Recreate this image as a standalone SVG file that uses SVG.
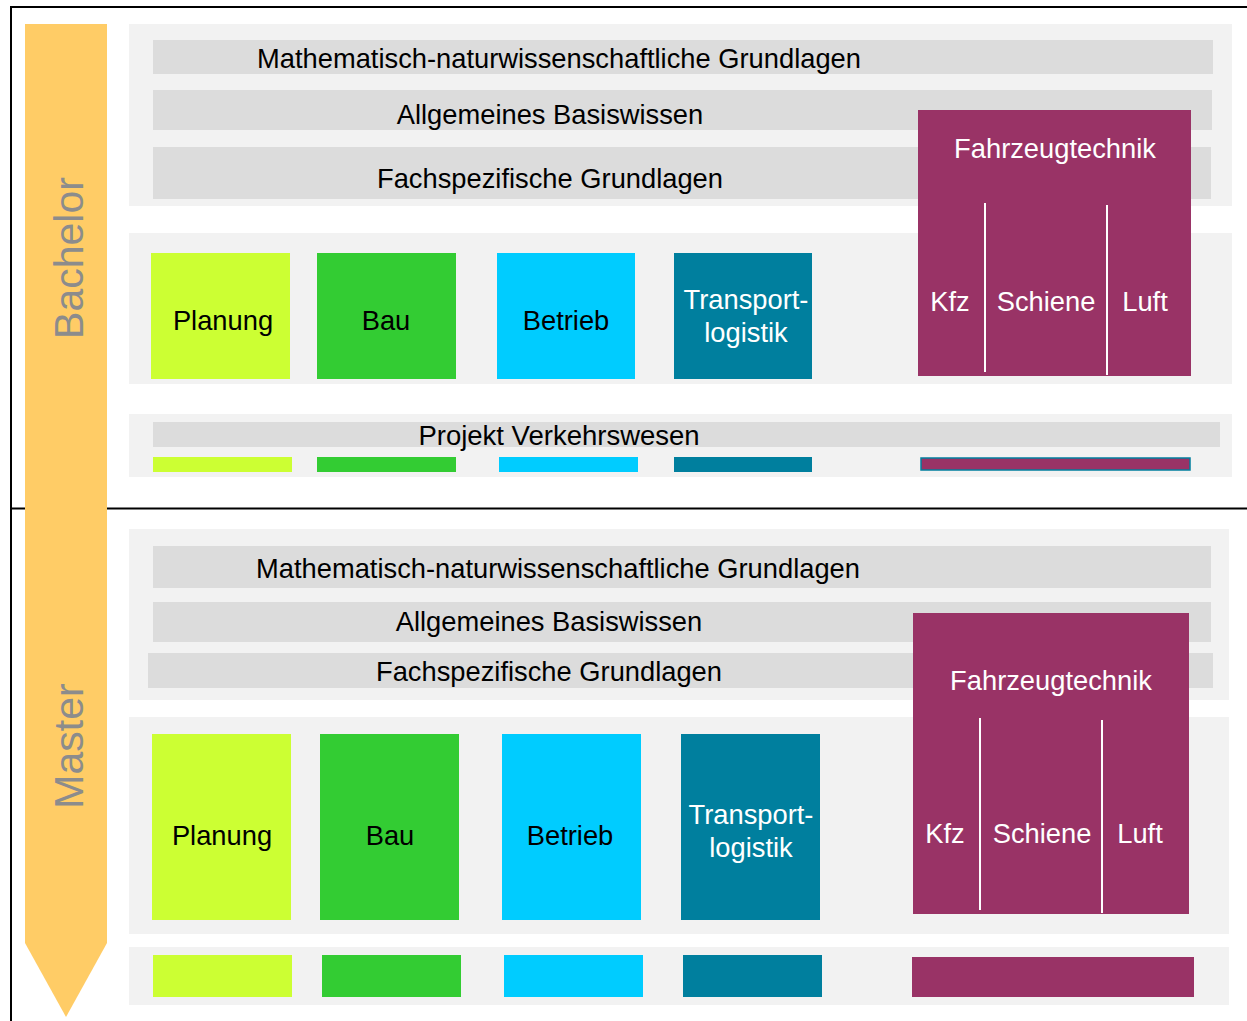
<svg xmlns="http://www.w3.org/2000/svg" width="1247" height="1021" viewBox="0 0 1247 1021">
<style>
text{font-family:"Liberation Sans",Arial,sans-serif;}
.panel{fill:#f2f2f2;}
.bar{fill:#dcdcdc;}
.t{font-size:27.3px;fill:#000;text-anchor:middle;}
.tw{font-size:27.3px;fill:#fff;text-anchor:middle;}
.side{font-size:41px;fill:#8c8c8c;text-anchor:middle;}
.c1{fill:#ccff33;}
.c2{fill:#33cc33;}
.c3{fill:#00ccff;}
.c4{fill:#007f9e;}
.c5{fill:#993366;}
.sep{stroke:#fff;stroke-width:2;}
</style>
<rect width="1247" height="1021" fill="#fff"/>
<g id="frame" fill="none" stroke="#000" stroke-width="2">
<polyline points="1247,7 11,7 11,1021"/>
<line x1="11" y1="508.5" x2="1247" y2="508.5"/>
</g>
<g id="arrow">
<polygon points="25,24 107,24 107,943 66,1017 25,943" fill="#ffcc66"/>
<text class="side" transform="translate(83,258) rotate(-90)">Bachelor</text>
<text class="side" transform="translate(83,746) rotate(-90)">Master</text>
</g>
<g id="bachelor">
<g id="b-grundlagen">
<rect class="panel" x="129" y="24" width="1103" height="182"/>
<rect class="bar" x="153" y="40" width="1060" height="34"/>
<text class="t" x="559" y="68">Mathematisch-naturwissenschaftliche Grundlagen</text>
<rect class="bar" x="153" y="90" width="1059" height="40"/>
<text class="t" x="550" y="124">Allgemeines Basiswissen</text>
<rect class="bar" x="153" y="147" width="1058" height="52"/>
<text class="t" x="550" y="188">Fachspezifische Grundlagen</text>
</g>
<rect class="panel" x="129" y="233" width="1103" height="151"/>
<g id="b-planung"><rect class="c1" x="151" y="253" width="139" height="126"/><text class="t" x="223" y="330">Planung</text></g>
<g id="b-bau"><rect class="c2" x="317" y="253" width="139" height="126"/><text class="t" x="386" y="330">Bau</text></g>
<g id="b-betrieb"><rect class="c3" x="497" y="253" width="138" height="126"/><text class="t" x="566" y="330">Betrieb</text></g>
<g id="b-transport"><rect class="c4" x="674" y="253" width="138" height="126"/><text class="tw" x="746" y="309">Transport-</text><text class="tw" x="746" y="342">logistik</text></g>
<g id="b-fahrzeug">
<rect class="c5" x="918" y="110" width="273" height="266"/>
<text class="tw" x="1055" y="158">Fahrzeugtechnik</text>
<line class="sep" x1="985" y1="203" x2="985" y2="372"/>
<line class="sep" x1="1107" y1="205" x2="1107" y2="375"/>
<text class="tw" x="950" y="311">Kfz</text>
<text class="tw" x="1046" y="311">Schiene</text>
<text class="tw" x="1145" y="311">Luft</text>
</g>
<g id="b-projekt">
<rect class="panel" x="129" y="414" width="1103" height="63"/>
<rect class="bar" x="153" y="422" width="1067" height="25"/>
<text class="t" x="559" y="445" style="font-size:27.5px">Projekt Verkehrswesen</text>
<rect class="c1" x="153" y="457" width="139" height="15"/>
<rect class="c2" x="317" y="457" width="139" height="15"/>
<rect class="c3" x="499" y="457" width="139" height="15"/>
<rect class="c4" x="674" y="457" width="138" height="15"/>
<rect class="c5" x="921" y="458" width="269" height="12" stroke="#007f9e" stroke-width="1.5"/>
</g>
</g>
<g id="master">
<g id="m-grundlagen">
<rect class="panel" x="129" y="529" width="1100" height="171"/>
<rect class="bar" x="153" y="546" width="1058" height="42"/>
<text class="t" x="558" y="578">Mathematisch-naturwissenschaftliche Grundlagen</text>
<rect class="bar" x="153" y="602" width="1058" height="40"/>
<text class="t" x="549" y="631">Allgemeines Basiswissen</text>
<rect class="bar" x="148" y="653" width="1065" height="35"/>
<text class="t" x="549" y="681">Fachspezifische Grundlagen</text>
</g>
<rect class="panel" x="129" y="717" width="1100" height="217"/>
<g id="m-planung"><rect class="c1" x="152" y="734" width="139" height="186"/><text class="t" x="222" y="845">Planung</text></g>
<g id="m-bau"><rect class="c2" x="320" y="734" width="139" height="186"/><text class="t" x="390" y="845">Bau</text></g>
<g id="m-betrieb"><rect class="c3" x="502" y="734" width="139" height="186"/><text class="t" x="570" y="845">Betrieb</text></g>
<g id="m-transport"><rect class="c4" x="681" y="734" width="139" height="186"/><text class="tw" x="751" y="824">Transport-</text><text class="tw" x="751" y="857">logistik</text></g>
<g id="m-fahrzeug">
<rect class="c5" x="913" y="613" width="276" height="301"/>
<text class="tw" x="1051" y="690">Fahrzeugtechnik</text>
<line class="sep" x1="980" y1="718" x2="980" y2="910"/>
<line class="sep" x1="1102" y1="720" x2="1102" y2="913"/>
<text class="tw" x="945" y="843">Kfz</text>
<text class="tw" x="1042" y="843">Schiene</text>
<text class="tw" x="1140" y="843">Luft</text>
</g>
<g id="m-projekt">
<rect class="panel" x="129" y="947" width="1100" height="58"/>
<rect class="c1" x="153" y="955" width="139" height="42"/>
<rect class="c2" x="322" y="955" width="139" height="42"/>
<rect class="c3" x="504" y="955" width="139" height="42"/>
<rect class="c4" x="683" y="955" width="139" height="42"/>
<rect class="c5" x="912" y="957" width="282" height="40"/>
</g>
</g>
</svg>
